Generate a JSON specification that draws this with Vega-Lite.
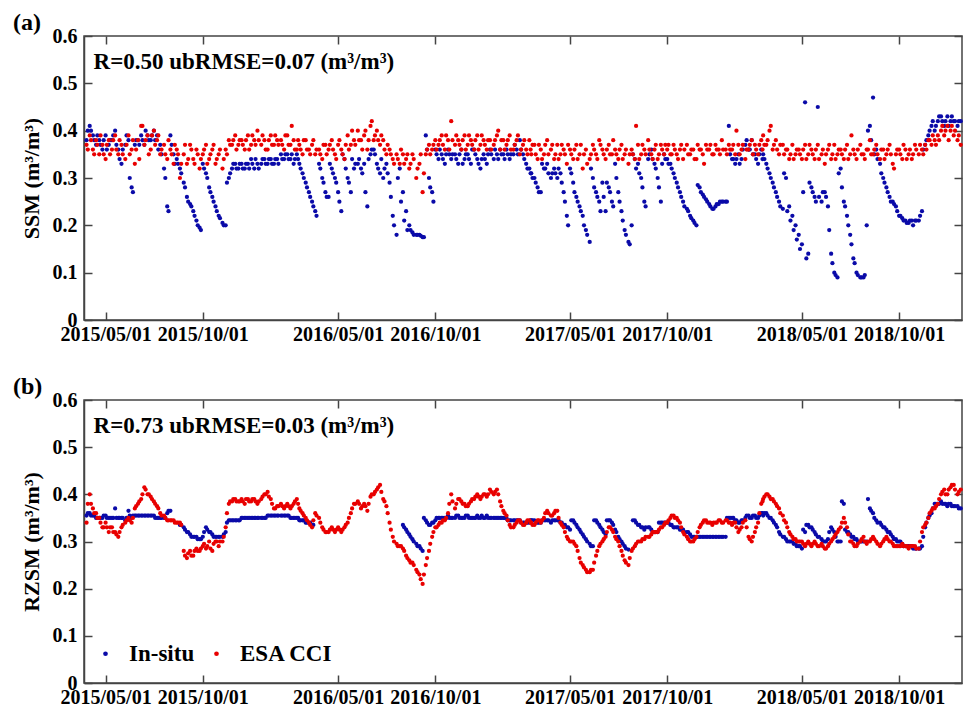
{
"$schema":"https://vega.github.io/schema/vega-lite/v6.json",
"background":"white",
"padding":{"left":12,"top":10,"right":0,"bottom":0},
"datasets":{"sm":[
{"d":"2015-04-01","ai":0.38,"ae":0.37,"bi":0.355,"be":0.34},
{"d":"2015-04-06","ai":0.41,"ae":0.39,"bi":0.36,"be":0.40},
{"d":"2015-04-11","ai":0.39,"ae":0.36,"bi":0.355,"be":0.37},
{"d":"2015-04-16","ai":0.37,"ae":0.38,"bi":0.35,"be":0.36},
{"d":"2015-04-21","ai":0.38,"ae":0.35,"bi":0.35,"be":0.35},
{"d":"2015-04-26","ai":0.36,"ae":0.37,"bi":0.35,"be":0.33},
{"d":"2015-05-01","ai":0.39,"ae":0.34,"bi":0.355,"be":0.34},
{"d":"2015-05-06","ai":0.37,"ae":0.38,"bi":0.35,"be":0.32},
{"d":"2015-05-11","ai":0.38,"ae":0.36,"bi":0.35,"be":0.33},
{"d":"2015-05-16","ai":0.40,"ae":0.39,"bi":0.37,"be":0.32},
{"d":"2015-05-21","ai":0.36,"ae":0.35,"bi":0.35,"be":0.31},
{"d":"2015-05-26","ai":0.33,"ae":0.37,"bi":0.35,"be":0.33},
{"d":"2015-06-01","ai":0.37,"ae":0.34,"bi":0.345,"be":0.34},
{"d":"2015-06-06","ai":0.38,"ae":0.39,"bi":0.365,"be":0.35},
{"d":"2015-06-11","ai":0.28,"ae":0.36,"bi":0.35,"be":0.34},
{"d":"2015-06-16","ai":0.37,"ae":0.33,"bi":0.355,"be":0.37},
{"d":"2015-06-21","ai":0.38,"ae":0.38,"bi":0.355,"be":0.38},
{"d":"2015-06-26","ai":0.39,"ae":0.41,"bi":0.355,"be":0.39},
{"d":"2015-07-01","ai":0.37,"ae":0.37,"bi":0.355,"be":0.415},
{"d":"2015-07-06","ai":0.39,"ae":0.39,"bi":0.355,"be":0.40},
{"d":"2015-07-11","ai":0.38,"ae":0.36,"bi":0.355,"be":0.395},
{"d":"2015-07-16","ai":0.40,"ae":0.40,"bi":0.355,"be":0.385},
{"d":"2015-07-21","ai":0.39,"ae":0.38,"bi":0.35,"be":0.375},
{"d":"2015-07-26","ai":0.37,"ae":0.35,"bi":0.35,"be":0.36},
{"d":"2015-08-01","ai":0.32,"ae":0.37,"bi":0.35,"be":0.355},
{"d":"2015-08-06","ai":0.24,"ae":0.34,"bi":0.36,"be":0.345},
{"d":"2015-08-11","ai":0.39,"ae":0.36,"bi":0.365,"be":0.345},
{"d":"2015-08-16","ai":0.35,"ae":0.33,"bi":null,"be":0.345},
{"d":"2015-08-21","ai":0.34,"ae":0.36,"bi":null,"be":0.34},
{"d":"2015-08-26","ai":0.32,"ae":0.30,"bi":0.335,"be":0.34},
{"d":"2015-09-01","ai":0.29,"ae":0.35,"bi":0.33,"be":0.28},
{"d":"2015-09-06","ai":0.26,"ae":0.33,"bi":0.32,"be":0.265},
{"d":"2015-09-11","ai":0.245,"ae":0.37,"bi":0.315,"be":0.28},
{"d":"2015-09-16","ai":0.23,"ae":0.34,"bi":0.31,"be":0.27},
{"d":"2015-09-21","ai":0.21,"ae":0.36,"bi":0.31,"be":0.285},
{"d":"2015-09-26","ai":0.195,"ae":0.32,"bi":0.305,"be":0.28},
{"d":"2015-10-01","ai":0.33,"ae":0.35,"bi":0.31,"be":0.29},
{"d":"2015-10-06","ai":0.31,"ae":0.37,"bi":0.33,"be":0.285},
{"d":"2015-10-11","ai":0.28,"ae":0.34,"bi":0.32,"be":0.30},
{"d":"2015-10-16","ai":0.26,"ae":0.36,"bi":0.315,"be":0.28},
{"d":"2015-10-21","ai":0.24,"ae":0.33,"bi":0.31,"be":0.30},
{"d":"2015-10-26","ai":0.22,"ae":0.35,"bi":0.31,"be":0.29},
{"d":"2015-11-01","ai":0.205,"ae":0.32,"bi":0.31,"be":0.30},
{"d":"2015-11-06","ai":0.20,"ae":0.36,"bi":0.32,"be":0.33},
{"d":"2015-11-11","ai":0.30,"ae":0.38,"bi":0.345,"be":0.38},
{"d":"2015-11-16","ai":0.32,"ae":0.37,"bi":0.345,"be":0.385},
{"d":"2015-11-21","ai":0.33,"ae":0.39,"bi":0.345,"be":0.39},
{"d":"2015-11-26","ai":0.32,"ae":0.37,"bi":0.345,"be":0.385},
{"d":"2015-12-01","ai":0.33,"ae":0.38,"bi":0.35,"be":0.39},
{"d":"2015-12-06","ai":0.32,"ae":0.36,"bi":0.35,"be":0.38},
{"d":"2015-12-11","ai":0.33,"ae":0.39,"bi":0.35,"be":0.39},
{"d":"2015-12-16","ai":0.34,"ae":0.37,"bi":0.35,"be":0.385},
{"d":"2015-12-21","ai":0.32,"ae":0.38,"bi":0.35,"be":0.39},
{"d":"2015-12-26","ai":0.33,"ae":0.40,"bi":0.35,"be":0.38},
{"d":"2016-01-01","ai":0.33,"ae":0.37,"bi":0.35,"be":0.39},
{"d":"2016-01-06","ai":0.34,"ae":0.38,"bi":0.35,"be":0.40},
{"d":"2016-01-11","ai":0.33,"ae":0.36,"bi":0.355,"be":0.405},
{"d":"2016-01-16","ai":0.34,"ae":0.39,"bi":0.355,"be":0.39},
{"d":"2016-01-21","ai":0.33,"ae":0.37,"bi":0.355,"be":0.37},
{"d":"2016-01-26","ai":0.34,"ae":0.38,"bi":0.355,"be":0.375},
{"d":"2016-02-01","ai":0.35,"ae":0.38,"bi":0.355,"be":0.38},
{"d":"2016-02-06","ai":0.34,"ae":0.36,"bi":0.355,"be":0.37},
{"d":"2016-02-11","ai":0.35,"ae":0.39,"bi":0.355,"be":0.38},
{"d":"2016-02-16","ai":0.34,"ae":0.37,"bi":0.35,"be":0.37},
{"d":"2016-02-21","ai":0.33,"ae":0.38,"bi":0.35,"be":0.38},
{"d":"2016-02-26","ai":0.35,"ae":0.36,"bi":0.35,"be":0.39},
{"d":"2016-03-01","ai":0.33,"ae":0.37,"bi":0.345,"be":0.37},
{"d":"2016-03-06","ai":0.31,"ae":0.35,"bi":0.345,"be":0.36},
{"d":"2016-03-11","ai":0.29,"ae":0.38,"bi":0.34,"be":0.35},
{"d":"2016-03-16","ai":0.27,"ae":0.36,"bi":0.34,"be":0.34},
{"d":"2016-03-21","ai":0.25,"ae":0.37,"bi":0.335,"be":0.33},
{"d":"2016-03-26","ai":0.23,"ae":0.35,"bi":null,"be":0.36},
{"d":"2016-04-01","ai":0.33,"ae":0.36,"bi":null,"be":0.35},
{"d":"2016-04-06","ai":0.30,"ae":0.34,"bi":null,"be":0.33},
{"d":"2016-04-11","ai":0.27,"ae":0.37,"bi":null,"be":0.32},
{"d":"2016-04-16","ai":0.26,"ae":0.36,"bi":null,"be":0.32},
{"d":"2016-04-21","ai":0.32,"ae":0.38,"bi":null,"be":0.33},
{"d":"2016-04-26","ai":0.30,"ae":0.35,"bi":null,"be":0.32},
{"d":"2016-05-01","ai":0.27,"ae":0.37,"bi":null,"be":0.33},
{"d":"2016-05-06","ai":0.23,"ae":0.36,"bi":null,"be":0.32},
{"d":"2016-05-11","ai":0.34,"ae":0.34,"bi":null,"be":0.33},
{"d":"2016-05-16","ai":0.30,"ae":0.39,"bi":null,"be":0.34},
{"d":"2016-05-21","ai":0.27,"ae":0.37,"bi":null,"be":0.36},
{"d":"2016-05-26","ai":0.32,"ae":0.38,"bi":null,"be":0.38},
{"d":"2016-06-01","ai":0.33,"ae":0.40,"bi":null,"be":0.385},
{"d":"2016-06-06","ai":0.32,"ae":0.38,"bi":null,"be":0.37},
{"d":"2016-06-11","ai":0.33,"ae":0.39,"bi":null,"be":0.38},
{"d":"2016-06-16","ai":0.24,"ae":0.36,"bi":null,"be":0.365},
{"d":"2016-06-21","ai":0.35,"ae":0.41,"bi":null,"be":0.395},
{"d":"2016-06-26","ai":0.36,"ae":0.38,"bi":null,"be":0.40},
{"d":"2016-07-01","ai":0.33,"ae":0.40,"bi":null,"be":0.41},
{"d":"2016-07-06","ai":0.31,"ae":0.37,"bi":null,"be":0.42},
{"d":"2016-07-11","ai":0.30,"ae":0.38,"bi":null,"be":0.39},
{"d":"2016-07-16","ai":0.33,"ae":0.35,"bi":null,"be":0.375},
{"d":"2016-07-21","ai":0.29,"ae":0.36,"bi":null,"be":0.34},
{"d":"2016-07-26","ai":0.22,"ae":0.34,"bi":null,"be":0.31},
{"d":"2016-08-01","ai":0.18,"ae":0.35,"bi":null,"be":0.295},
{"d":"2016-08-06","ai":0.32,"ae":0.33,"bi":null,"be":0.29},
{"d":"2016-08-11","ai":0.27,"ae":0.35,"bi":0.335,"be":0.285},
{"d":"2016-08-16","ai":0.23,"ae":0.34,"bi":0.325,"be":0.27},
{"d":"2016-08-21","ai":0.20,"ae":0.32,"bi":0.315,"be":0.26},
{"d":"2016-08-26","ai":0.185,"ae":0.35,"bi":0.305,"be":0.255},
{"d":"2016-09-01","ai":0.18,"ae":0.30,"bi":0.295,"be":0.24},
{"d":"2016-09-06","ai":0.18,"ae":0.33,"bi":0.29,"be":0.23},
{"d":"2016-09-11","ai":0.175,"ae":0.27,"bi":0.28,"be":0.21},
{"d":"2016-09-16","ai":0.39,"ae":0.35,"bi":0.345,"be":0.25},
{"d":"2016-09-21","ai":0.30,"ae":0.37,"bi":0.335,"be":0.28},
{"d":"2016-09-26","ai":0.27,"ae":0.36,"bi":0.34,"be":0.31},
{"d":"2016-10-01","ai":0.36,"ae":0.38,"bi":0.345,"be":0.33},
{"d":"2016-10-06","ai":0.34,"ae":0.37,"bi":0.35,"be":0.335},
{"d":"2016-10-11","ai":0.35,"ae":0.39,"bi":0.35,"be":0.34},
{"d":"2016-10-16","ai":0.33,"ae":0.36,"bi":0.35,"be":0.345},
{"d":"2016-10-21","ai":0.36,"ae":0.38,"bi":0.355,"be":0.36},
{"d":"2016-10-26","ai":0.34,"ae":0.42,"bi":0.35,"be":0.40},
{"d":"2016-11-01","ai":0.35,"ae":0.37,"bi":0.35,"be":0.37},
{"d":"2016-11-06","ai":0.33,"ae":0.38,"bi":0.355,"be":0.39},
{"d":"2016-11-11","ai":0.36,"ae":0.36,"bi":0.35,"be":0.385},
{"d":"2016-11-16","ai":0.34,"ae":0.39,"bi":0.35,"be":0.38},
{"d":"2016-11-21","ai":0.35,"ae":0.37,"bi":0.355,"be":0.375},
{"d":"2016-11-26","ai":0.33,"ae":0.38,"bi":0.35,"be":0.385},
{"d":"2016-12-01","ai":0.36,"ae":0.36,"bi":0.35,"be":0.39},
{"d":"2016-12-06","ai":0.34,"ae":0.39,"bi":0.355,"be":0.40},
{"d":"2016-12-11","ai":0.32,"ae":0.37,"bi":0.35,"be":0.39},
{"d":"2016-12-16","ai":0.35,"ae":0.38,"bi":0.35,"be":0.40},
{"d":"2016-12-21","ai":0.33,"ae":0.36,"bi":0.355,"be":0.395},
{"d":"2016-12-26","ai":0.36,"ae":0.38,"bi":0.35,"be":0.41},
{"d":"2017-01-01","ai":0.34,"ae":0.37,"bi":0.35,"be":0.40},
{"d":"2017-01-06","ai":0.35,"ae":0.39,"bi":0.35,"be":0.41},
{"d":"2017-01-11","ai":0.36,"ae":0.36,"bi":0.35,"be":0.385},
{"d":"2017-01-16","ai":0.35,"ae":0.38,"bi":0.35,"be":0.365},
{"d":"2017-01-21","ai":0.36,"ae":0.37,"bi":0.35,"be":0.355},
{"d":"2017-01-26","ai":0.34,"ae":0.39,"bi":0.345,"be":0.335},
{"d":"2017-02-01","ai":0.35,"ae":0.36,"bi":0.345,"be":0.33},
{"d":"2017-02-06","ai":0.36,"ae":0.38,"bi":0.345,"be":0.34},
{"d":"2017-02-11","ai":0.38,"ae":0.35,"bi":0.345,"be":0.345},
{"d":"2017-02-16","ai":0.35,"ae":0.37,"bi":0.34,"be":0.335},
{"d":"2017-02-21","ai":0.33,"ae":0.36,"bi":0.34,"be":0.34},
{"d":"2017-02-26","ai":0.32,"ae":0.38,"bi":0.34,"be":0.345},
{"d":"2017-03-01","ai":0.31,"ae":0.35,"bi":0.345,"be":0.34},
{"d":"2017-03-06","ai":0.30,"ae":0.37,"bi":0.345,"be":0.335},
{"d":"2017-03-11","ai":0.28,"ae":0.34,"bi":0.34,"be":0.345},
{"d":"2017-03-16","ai":0.27,"ae":0.36,"bi":0.34,"be":0.34},
{"d":"2017-03-21","ai":0.32,"ae":0.35,"bi":0.345,"be":0.35},
{"d":"2017-03-26","ai":0.33,"ae":0.38,"bi":0.345,"be":0.365},
{"d":"2017-04-01","ai":0.30,"ae":0.36,"bi":0.34,"be":0.355},
{"d":"2017-04-06","ai":0.32,"ae":0.34,"bi":0.345,"be":0.36},
{"d":"2017-04-11","ai":0.30,"ae":0.37,"bi":0.345,"be":0.365},
{"d":"2017-04-16","ai":0.31,"ae":0.35,"bi":0.34,"be":0.34},
{"d":"2017-04-21","ai":0.27,"ae":0.36,"bi":0.335,"be":0.33},
{"d":"2017-04-26","ai":0.22,"ae":0.33,"bi":0.33,"be":0.31},
{"d":"2017-05-01","ai":0.32,"ae":0.36,"bi":0.325,"be":0.30},
{"d":"2017-05-06","ai":0.29,"ae":0.34,"bi":0.345,"be":0.30},
{"d":"2017-05-11","ai":0.26,"ae":0.37,"bi":0.335,"be":0.29},
{"d":"2017-05-16","ai":0.24,"ae":0.35,"bi":0.325,"be":0.265},
{"d":"2017-05-21","ai":0.22,"ae":0.32,"bi":0.315,"be":0.25},
{"d":"2017-05-26","ai":0.19,"ae":0.36,"bi":0.305,"be":0.24},
{"d":"2017-06-01","ai":0.165,"ae":0.34,"bi":0.295,"be":0.235},
{"d":"2017-06-06","ai":0.30,"ae":0.37,"bi":0.29,"be":0.24},
{"d":"2017-06-11","ai":0.27,"ae":0.35,"bi":0.345,"be":0.27},
{"d":"2017-06-16","ai":0.25,"ae":0.38,"bi":0.335,"be":0.29},
{"d":"2017-06-21","ai":0.29,"ae":0.36,"bi":0.325,"be":0.30},
{"d":"2017-06-26","ai":0.23,"ae":0.34,"bi":0.315,"be":0.31},
{"d":"2017-07-01","ai":0.28,"ae":0.37,"bi":0.345,"be":0.33},
{"d":"2017-07-06","ai":0.25,"ae":0.35,"bi":0.34,"be":0.325},
{"d":"2017-07-11","ai":0.33,"ae":0.36,"bi":0.325,"be":0.31},
{"d":"2017-07-16","ai":0.27,"ae":0.34,"bi":0.31,"be":0.30},
{"d":"2017-07-21","ai":0.23,"ae":0.37,"bi":0.30,"be":0.28},
{"d":"2017-07-26","ai":0.19,"ae":0.35,"bi":0.29,"be":0.26},
{"d":"2017-08-01","ai":0.165,"ae":0.33,"bi":0.283,"be":0.25},
{"d":"2017-08-06","ai":0.20,"ae":0.36,"bi":null,"be":0.28},
{"d":"2017-08-11","ai":0.34,"ae":0.34,"bi":0.345,"be":0.29},
{"d":"2017-08-16","ai":0.33,"ae":0.37,"bi":0.335,"be":0.30},
{"d":"2017-08-21","ai":0.30,"ae":0.35,"bi":0.33,"be":0.30},
{"d":"2017-08-26","ai":0.25,"ae":0.36,"bi":0.325,"be":0.305},
{"d":"2017-09-01","ai":0.34,"ae":0.38,"bi":0.33,"be":0.31},
{"d":"2017-09-06","ai":0.36,"ae":0.35,"bi":0.325,"be":0.315},
{"d":"2017-09-11","ai":0.33,"ae":0.36,"bi":0.32,"be":0.32},
{"d":"2017-09-16","ai":0.30,"ae":0.34,"bi":0.32,"be":0.32},
{"d":"2017-09-21","ai":0.25,"ae":0.37,"bi":0.34,"be":0.33},
{"d":"2017-09-26","ai":0.35,"ae":0.35,"bi":0.34,"be":0.335},
{"d":"2017-10-01","ai":0.34,"ae":0.36,"bi":0.34,"be":0.34},
{"d":"2017-10-06","ai":0.33,"ae":0.35,"bi":0.335,"be":0.35},
{"d":"2017-10-11","ai":0.31,"ae":0.37,"bi":0.33,"be":0.355},
{"d":"2017-10-16","ai":0.29,"ae":0.35,"bi":0.33,"be":0.35},
{"d":"2017-10-21","ai":0.27,"ae":0.36,"bi":0.325,"be":0.34},
{"d":"2017-10-26","ai":0.25,"ae":0.34,"bi":0.325,"be":0.32},
{"d":"2017-11-01","ai":0.235,"ae":0.37,"bi":0.32,"be":0.31},
{"d":"2017-11-06","ai":0.22,"ae":0.35,"bi":0.315,"be":0.30},
{"d":"2017-11-11","ai":0.21,"ae":0.36,"bi":0.31,"be":0.30},
{"d":"2017-11-16","ai":0.20,"ae":0.34,"bi":0.31,"be":0.31},
{"d":"2017-11-21","ai":0.28,"ae":0.36,"bi":0.31,"be":0.33},
{"d":"2017-11-26","ai":0.265,"ae":0.35,"bi":0.31,"be":0.34},
{"d":"2017-12-01","ai":0.255,"ae":0.37,"bi":0.31,"be":0.345},
{"d":"2017-12-06","ai":0.245,"ae":0.36,"bi":0.31,"be":0.34},
{"d":"2017-12-11","ai":0.235,"ae":0.35,"bi":0.31,"be":0.335},
{"d":"2017-12-16","ai":0.24,"ae":0.37,"bi":0.31,"be":0.34},
{"d":"2017-12-21","ai":0.245,"ae":0.36,"bi":0.31,"be":0.345},
{"d":"2017-12-26","ai":0.25,"ae":0.38,"bi":0.31,"be":0.34},
{"d":"2018-01-01","ai":0.25,"ae":0.36,"bi":0.31,"be":0.345},
{"d":"2018-01-06","ai":0.41,"ae":0.37,"bi":0.35,"be":0.34},
{"d":"2018-01-11","ai":0.34,"ae":0.36,"bi":0.35,"be":0.335},
{"d":"2018-01-16","ai":0.33,"ae":0.35,"bi":0.345,"be":0.34},
{"d":"2018-01-21","ai":0.35,"ae":0.37,"bi":0.34,"be":0.32},
{"d":"2018-01-26","ai":0.34,"ae":0.36,"bi":0.345,"be":0.33},
{"d":"2018-02-01","ai":0.37,"ae":0.34,"bi":0.35,"be":0.345},
{"d":"2018-02-06","ai":0.36,"ae":0.36,"bi":0.355,"be":0.31},
{"d":"2018-02-11","ai":0.38,"ae":0.38,"bi":0.35,"be":0.30},
{"d":"2018-02-16","ai":0.35,"ae":0.37,"bi":0.355,"be":0.32},
{"d":"2018-02-21","ai":0.33,"ae":0.35,"bi":0.35,"be":0.34},
{"d":"2018-02-26","ai":0.36,"ae":0.38,"bi":0.36,"be":0.38},
{"d":"2018-03-01","ai":0.35,"ae":0.39,"bi":0.355,"be":0.39},
{"d":"2018-03-06","ai":0.33,"ae":0.37,"bi":0.36,"be":0.40},
{"d":"2018-03-11","ai":0.31,"ae":0.40,"bi":0.35,"be":0.395},
{"d":"2018-03-16","ai":0.29,"ae":0.36,"bi":0.345,"be":0.39},
{"d":"2018-03-21","ai":0.27,"ae":0.38,"bi":0.335,"be":0.38},
{"d":"2018-03-26","ai":0.25,"ae":0.35,"bi":0.32,"be":0.37},
{"d":"2018-04-01","ai":0.235,"ae":0.37,"bi":0.31,"be":0.355},
{"d":"2018-04-06","ai":0.30,"ae":0.36,"bi":0.305,"be":0.34},
{"d":"2018-04-11","ai":0.24,"ae":0.34,"bi":0.30,"be":0.32},
{"d":"2018-04-16","ai":0.22,"ae":0.37,"bi":0.30,"be":0.31},
{"d":"2018-04-21","ai":0.20,"ae":0.35,"bi":0.295,"be":0.305},
{"d":"2018-04-26","ai":0.18,"ae":0.36,"bi":0.29,"be":0.30},
{"d":"2018-05-01","ai":0.16,"ae":0.34,"bi":0.285,"be":0.30},
{"d":"2018-05-06","ai":0.46,"ae":0.37,"bi":0.32,"be":0.29},
{"d":"2018-05-11","ai":0.14,"ae":0.35,"bi":0.335,"be":0.30},
{"d":"2018-05-16","ai":0.28,"ae":0.36,"bi":0.33,"be":0.29},
{"d":"2018-05-21","ai":0.26,"ae":0.34,"bi":0.32,"be":0.30},
{"d":"2018-05-26","ai":0.45,"ae":0.37,"bi":0.31,"be":0.29},
{"d":"2018-06-01","ai":0.25,"ae":0.35,"bi":0.305,"be":0.295},
{"d":"2018-06-06","ai":0.27,"ae":0.33,"bi":0.30,"be":0.285},
{"d":"2018-06-11","ai":0.24,"ae":0.36,"bi":0.305,"be":0.29},
{"d":"2018-06-16","ai":0.14,"ae":0.34,"bi":0.33,"be":0.30},
{"d":"2018-06-21","ai":0.10,"ae":0.37,"bi":0.32,"be":0.31},
{"d":"2018-06-26","ai":0.09,"ae":0.35,"bi":0.30,"be":0.32},
{"d":"2018-07-01","ai":0.32,"ae":0.36,"bi":0.30,"be":0.33},
{"d":"2018-07-06","ai":0.25,"ae":0.34,"bi":0.38,"be":0.35},
{"d":"2018-07-11","ai":0.22,"ae":0.37,"bi":0.32,"be":0.33},
{"d":"2018-07-16","ai":0.18,"ae":0.35,"bi":0.315,"be":0.30},
{"d":"2018-07-21","ai":0.13,"ae":0.36,"bi":0.31,"be":0.295},
{"d":"2018-07-26","ai":0.10,"ae":0.34,"bi":0.305,"be":0.29},
{"d":"2018-08-01","ai":0.09,"ae":0.37,"bi":0.30,"be":0.30},
{"d":"2018-08-06","ai":0.09,"ae":0.35,"bi":0.30,"be":0.31},
{"d":"2018-08-11","ai":0.20,"ae":0.36,"bi":0.30,"be":0.295},
{"d":"2018-08-16","ai":0.41,"ae":0.38,"bi":0.37,"be":0.30},
{"d":"2018-08-21","ai":0.47,"ae":0.35,"bi":0.36,"be":0.31},
{"d":"2018-08-26","ai":0.36,"ae":0.37,"bi":0.345,"be":0.30},
{"d":"2018-09-01","ai":0.33,"ae":0.34,"bi":0.34,"be":0.29},
{"d":"2018-09-06","ai":0.30,"ae":0.36,"bi":0.33,"be":0.30},
{"d":"2018-09-11","ai":0.28,"ae":0.35,"bi":0.325,"be":0.31},
{"d":"2018-09-16","ai":0.26,"ae":0.37,"bi":0.32,"be":0.30},
{"d":"2018-09-21","ai":0.25,"ae":0.33,"bi":0.31,"be":0.295},
{"d":"2018-09-26","ai":0.24,"ae":0.35,"bi":0.305,"be":0.29},
{"d":"2018-10-01","ai":0.22,"ae":0.36,"bi":0.30,"be":0.29},
{"d":"2018-10-06","ai":0.215,"ae":0.34,"bi":0.295,"be":0.295},
{"d":"2018-10-11","ai":0.21,"ae":0.36,"bi":0.29,"be":0.29},
{"d":"2018-10-16","ai":0.205,"ae":0.35,"bi":0.29,"be":0.285},
{"d":"2018-10-21","ai":0.21,"ae":0.34,"bi":0.29,"be":0.29},
{"d":"2018-10-26","ai":0.21,"ae":0.37,"bi":0.285,"be":0.29},
{"d":"2018-11-01","ai":0.21,"ae":0.35,"bi":0.285,"be":0.285},
{"d":"2018-11-06","ai":0.23,"ae":0.36,"bi":0.29,"be":0.32},
{"d":"2018-11-11","ai":0.37,"ae":0.37,"bi":0.33,"be":0.335},
{"d":"2018-11-16","ai":0.39,"ae":0.38,"bi":0.35,"be":0.35},
{"d":"2018-11-21","ai":0.41,"ae":0.37,"bi":0.36,"be":0.365},
{"d":"2018-11-26","ai":0.40,"ae":0.38,"bi":0.38,"be":0.37},
{"d":"2018-12-01","ai":0.42,"ae":0.39,"bi":0.38,"be":0.38},
{"d":"2018-12-06","ai":0.43,"ae":0.40,"bi":0.385,"be":0.40},
{"d":"2018-12-11","ai":0.41,"ae":0.39,"bi":0.38,"be":0.41},
{"d":"2018-12-16","ai":0.43,"ae":0.41,"bi":0.375,"be":0.40},
{"d":"2018-12-21","ai":0.42,"ae":0.40,"bi":0.38,"be":0.415},
{"d":"2018-12-26","ai":0.42,"ae":0.39,"bi":0.375,"be":0.42},
{"d":"2019-01-01","ai":0.41,"ae":0.38,"bi":0.375,"be":0.40},
{"d":"2019-01-06","ai":0.42,"ae":0.37,"bi":0.37,"be":0.41},
{"d":"2015-04-03","ai":0.40,"ae":0.36,"bi":0.36,"be":0.38},{"d":"2015-04-08","ai":0.40,"ae":0.38,"bi":0.355,"be":0.38},{"d":"2015-04-13","ai":0.38,"ae":0.35,"bi":0.355,"be":0.36},{"d":"2015-04-18","ai":0.39,"ae":0.37,"bi":0.35,"be":0.35},{"d":"2015-04-23","ai":0.37,"ae":0.39,"bi":0.35,"be":0.34},{"d":"2015-04-28","ai":0.38,"ae":0.35,"bi":0.355,"be":0.33},
{"d":"2015-05-03","ai":0.36,"ae":0.37,"bi":0.35,"be":0.33},{"d":"2015-05-08","ai":0.38,"ae":0.35,"bi":0.35,"be":0.33},{"d":"2015-05-13","ai":0.39,"ae":0.38,"bi":0.35,"be":0.32},{"d":"2015-05-18","ai":0.37,"ae":0.36,"bi":0.35,"be":0.315},{"d":"2015-05-23","ai":0.34,"ae":0.38,"bi":0.35,"be":0.32},{"d":"2015-05-28","ai":0.36,"ae":0.35,"bi":0.35,"be":0.335},
{"d":"2015-06-03","ai":0.39,"ae":0.37,"bi":0.35,"be":0.345},{"d":"2015-06-08","ai":0.30,"ae":0.35,"bi":0.355,"be":0.345},{"d":"2015-06-13","ai":0.27,"ae":0.38,"bi":0.355,"be":0.35},{"d":"2015-06-18","ai":0.38,"ae":0.36,"bi":0.355,"be":0.375},{"d":"2015-06-23","ai":0.37,"ae":0.34,"bi":0.355,"be":0.385},{"d":"2015-06-28","ai":0.38,"ae":0.41,"bi":0.355,"be":0.40},
{"d":"2015-07-03","ai":0.40,"ae":0.38,"bi":0.355,"be":0.41},{"d":"2015-07-08","ai":0.38,"ae":0.35,"bi":0.355,"be":0.40},{"d":"2015-07-13","ai":0.39,"ae":0.39,"bi":0.355,"be":0.39},{"d":"2015-07-18","ai":0.38,"ae":0.37,"bi":0.35,"be":0.38},{"d":"2015-07-23","ai":0.36,"ae":0.39,"bi":0.35,"be":0.37},{"d":"2015-07-28","ai":0.35,"ae":0.36,"bi":0.35,"be":0.355},
{"d":"2015-08-03","ai":0.30,"ae":0.35,"bi":0.35,"be":0.35},{"d":"2015-08-08","ai":0.23,"ae":0.38,"bi":0.365,"be":0.345},{"d":"2015-08-13","ai":0.37,"ae":0.35,"bi":null,"be":0.345},{"d":"2015-08-18","ai":0.33,"ae":0.37,"bi":null,"be":0.34},{"d":"2015-08-23","ai":0.33,"ae":0.35,"bi":null,"be":0.34},{"d":"2015-08-28","ai":0.31,"ae":0.33,"bi":0.335,"be":0.335},
{"d":"2015-09-03","ai":0.28,"ae":0.37,"bi":0.325,"be":0.27},{"d":"2015-09-08","ai":0.25,"ae":0.34,"bi":0.32,"be":0.275},{"d":"2015-09-13","ai":0.24,"ae":0.36,"bi":0.31,"be":0.27},{"d":"2015-09-18","ai":0.22,"ae":0.33,"bi":0.31,"be":0.28},{"d":"2015-09-23","ai":0.20,"ae":0.35,"bi":0.305,"be":0.28},{"d":"2015-09-28","ai":0.19,"ae":0.34,"bi":0.305,"be":0.285},
{"d":"2015-10-03","ai":0.32,"ae":0.36,"bi":0.32,"be":0.295},{"d":"2015-10-08","ai":0.30,"ae":0.33,"bi":0.325,"be":0.29},{"d":"2015-10-13","ai":0.27,"ae":0.35,"bi":0.32,"be":0.285},{"d":"2015-10-18","ai":0.25,"ae":0.37,"bi":0.31,"be":0.295},{"d":"2015-10-23","ai":0.23,"ae":0.34,"bi":0.31,"be":0.30},{"d":"2015-10-28","ai":0.215,"ae":0.36,"bi":0.31,"be":0.30},
{"d":"2015-11-03","ai":0.20,"ae":0.34,"bi":0.315,"be":0.31},{"d":"2015-11-08","ai":0.29,"ae":0.35,"bi":0.34,"be":0.36},{"d":"2015-11-13","ai":0.31,"ae":0.37,"bi":0.345,"be":0.385},{"d":"2015-11-18","ai":0.33,"ae":0.38,"bi":0.345,"be":0.39},{"d":"2015-11-23","ai":0.32,"ae":0.36,"bi":0.345,"be":0.385},{"d":"2015-11-28","ai":0.33,"ae":0.38,"bi":0.345,"be":0.385},
{"d":"2015-12-03","ai":0.32,"ae":0.37,"bi":0.35,"be":0.385},{"d":"2015-12-08","ai":0.33,"ae":0.38,"bi":0.35,"be":0.39},{"d":"2015-12-13","ai":0.32,"ae":0.36,"bi":0.35,"be":0.385},{"d":"2015-12-18","ai":0.33,"ae":0.39,"bi":0.35,"be":0.39},{"d":"2015-12-23","ai":0.34,"ae":0.37,"bi":0.35,"be":0.385},{"d":"2015-12-28","ai":0.32,"ae":0.38,"bi":0.35,"be":0.385},
{"d":"2016-01-03","ai":0.34,"ae":0.39,"bi":0.35,"be":0.395},{"d":"2016-01-08","ai":0.33,"ae":0.36,"bi":0.35,"be":0.40},{"d":"2016-01-13","ai":0.34,"ae":0.38,"bi":0.355,"be":0.395},{"d":"2016-01-18","ai":0.33,"ae":0.37,"bi":0.355,"be":0.38},{"d":"2016-01-23","ai":0.34,"ae":0.39,"bi":0.355,"be":0.37},{"d":"2016-01-28","ai":0.33,"ae":0.37,"bi":0.355,"be":0.375},
{"d":"2016-02-03","ai":0.34,"ae":0.37,"bi":0.355,"be":0.375},{"d":"2016-02-08","ai":0.35,"ae":0.39,"bi":0.355,"be":0.375},{"d":"2016-02-13","ai":0.34,"ae":0.37,"bi":0.355,"be":0.375},{"d":"2016-02-18","ai":0.35,"ae":0.41,"bi":0.35,"be":0.375},{"d":"2016-02-23","ai":0.34,"ae":0.36,"bi":0.35,"be":0.385},{"d":"2016-02-28","ai":0.34,"ae":0.38,"bi":0.35,"be":0.38},
{"d":"2016-03-03","ai":0.32,"ae":0.36,"bi":0.345,"be":0.365},{"d":"2016-03-08","ai":0.30,"ae":0.38,"bi":0.345,"be":0.355},{"d":"2016-03-13","ai":0.28,"ae":0.36,"bi":0.34,"be":0.345},{"d":"2016-03-18","ai":0.26,"ae":0.35,"bi":0.34,"be":0.335},{"d":"2016-03-23","ai":0.24,"ae":0.38,"bi":0.335,"be":0.345},{"d":"2016-03-28","ai":0.22,"ae":0.36,"bi":null,"be":0.355},
{"d":"2016-04-03","ai":0.32,"ae":0.35,"bi":null,"be":0.34},{"d":"2016-04-08","ai":0.29,"ae":0.37,"bi":null,"be":0.325},{"d":"2016-04-13","ai":0.26,"ae":0.35,"bi":null,"be":0.32},{"d":"2016-04-18","ai":0.33,"ae":0.37,"bi":null,"be":0.325},{"d":"2016-04-23","ai":0.31,"ae":0.36,"bi":null,"be":0.325},{"d":"2016-04-28","ai":0.29,"ae":0.34,"bi":null,"be":0.325},
{"d":"2016-05-03","ai":0.25,"ae":0.38,"bi":null,"be":0.325},{"d":"2016-05-08","ai":0.35,"ae":0.35,"bi":null,"be":0.325},{"d":"2016-05-13","ai":0.32,"ae":0.37,"bi":null,"be":0.335},{"d":"2016-05-18","ai":0.29,"ae":0.36,"bi":null,"be":0.35},{"d":"2016-05-23","ai":0.34,"ae":0.40,"bi":null,"be":0.37},{"d":"2016-05-28","ai":0.33,"ae":0.37,"bi":null,"be":0.38},
{"d":"2016-06-03","ai":0.34,"ae":0.38,"bi":null,"be":0.38},{"d":"2016-06-08","ai":0.31,"ae":0.36,"bi":null,"be":0.375},{"d":"2016-06-13","ai":0.27,"ae":0.40,"bi":null,"be":0.375},{"d":"2016-06-18","ai":0.34,"ae":0.38,"bi":null,"be":0.38},{"d":"2016-06-23","ai":0.36,"ae":0.42,"bi":null,"be":0.40},{"d":"2016-06-28","ai":0.35,"ae":0.39,"bi":null,"be":0.405},
{"d":"2016-07-03","ai":0.32,"ae":0.38,"bi":null,"be":0.415},{"d":"2016-07-08","ai":0.34,"ae":0.39,"bi":null,"be":0.405},{"d":"2016-07-13","ai":0.32,"ae":0.36,"bi":null,"be":0.385},{"d":"2016-07-18","ai":0.31,"ae":0.37,"bi":null,"be":0.36},{"d":"2016-07-23","ai":0.26,"ae":0.35,"bi":null,"be":0.325},{"d":"2016-07-28","ai":0.20,"ae":0.33,"bi":null,"be":0.30},
{"d":"2016-08-03","ai":0.30,"ae":0.34,"bi":null,"be":0.29},{"d":"2016-08-08","ai":0.25,"ae":0.36,"bi":null,"be":0.29},{"d":"2016-08-13","ai":0.21,"ae":0.33,"bi":0.33,"be":0.28},{"d":"2016-08-18","ai":0.19,"ae":0.35,"bi":0.32,"be":0.265},{"d":"2016-08-23","ai":0.19,"ae":0.33,"bi":0.31,"be":0.255},{"d":"2016-08-28","ai":0.18,"ae":0.34,"bi":0.30,"be":0.25},
{"d":"2016-09-03","ai":0.18,"ae":0.32,"bi":0.29,"be":0.235},{"d":"2016-09-08","ai":0.178,"ae":0.35,"bi":0.285,"be":0.22},{"d":"2016-09-13","ai":0.175,"ae":0.31,"bi":0.35,"be":0.23},{"d":"2016-09-18","ai":0.36,"ae":0.36,"bi":0.34,"be":0.265},{"d":"2016-09-23","ai":0.28,"ae":0.35,"bi":0.335,"be":0.295},{"d":"2016-09-28","ai":0.25,"ae":0.37,"bi":0.34,"be":0.32},
{"d":"2016-10-03","ai":0.35,"ae":0.36,"bi":0.35,"be":0.33},{"d":"2016-10-08","ai":0.36,"ae":0.38,"bi":0.35,"be":0.34},{"d":"2016-10-13","ai":0.34,"ae":0.37,"bi":0.35,"be":0.345},{"d":"2016-10-18","ai":0.35,"ae":0.39,"bi":0.35,"be":0.35},{"d":"2016-10-23","ai":0.35,"ae":0.36,"bi":0.35,"be":0.38},{"d":"2016-10-28","ai":0.35,"ae":0.38,"bi":0.35,"be":0.385},
{"d":"2016-11-03","ai":0.34,"ae":0.39,"bi":0.355,"be":0.38},{"d":"2016-11-08","ai":0.35,"ae":0.37,"bi":0.35,"be":0.39},{"d":"2016-11-13","ai":0.33,"ae":0.38,"bi":0.35,"be":0.38},{"d":"2016-11-18","ai":0.35,"ae":0.36,"bi":0.355,"be":0.375},{"d":"2016-11-23","ai":0.34,"ae":0.39,"bi":0.35,"be":0.38},{"d":"2016-11-28","ai":0.36,"ae":0.37,"bi":0.35,"be":0.39},
{"d":"2016-12-03","ai":0.35,"ae":0.38,"bi":0.35,"be":0.395},{"d":"2016-12-08","ai":0.33,"ae":0.36,"bi":0.35,"be":0.395},{"d":"2016-12-13","ai":0.34,"ae":0.39,"bi":0.355,"be":0.395},{"d":"2016-12-18","ai":0.34,"ae":0.37,"bi":0.35,"be":0.40},{"d":"2016-12-23","ai":0.35,"ae":0.38,"bi":0.35,"be":0.40},{"d":"2016-12-28","ai":0.35,"ae":0.36,"bi":0.35,"be":0.405},
{"d":"2017-01-03","ai":0.36,"ae":0.38,"bi":0.35,"be":0.405},{"d":"2017-01-08","ai":0.34,"ae":0.40,"bi":0.35,"be":0.40},{"d":"2017-01-13","ai":0.35,"ae":0.38,"bi":0.35,"be":0.375},{"d":"2017-01-18","ai":0.34,"ae":0.36,"bi":0.35,"be":0.36},{"d":"2017-01-23","ai":0.35,"ae":0.38,"bi":0.345,"be":0.345},{"d":"2017-01-28","ai":0.35,"ae":0.36,"bi":0.345,"be":0.33},
{"d":"2017-02-03","ai":0.37,"ae":0.37,"bi":0.345,"be":0.335},{"d":"2017-02-08","ai":0.35,"ae":0.39,"bi":0.345,"be":0.345},{"d":"2017-02-13","ai":0.36,"ae":0.36,"bi":0.34,"be":0.34},{"d":"2017-02-18","ai":0.34,"ae":0.38,"bi":0.34,"be":0.335},{"d":"2017-02-23","ai":0.32,"ae":0.35,"bi":0.34,"be":0.345},{"d":"2017-02-28","ai":0.31,"ae":0.36,"bi":0.345,"be":0.34},
{"d":"2017-03-03","ai":0.30,"ae":0.37,"bi":0.345,"be":0.335},{"d":"2017-03-08","ai":0.29,"ae":0.35,"bi":0.34,"be":0.34},{"d":"2017-03-13","ai":0.27,"ae":0.37,"bi":0.34,"be":0.345},{"d":"2017-03-18","ai":0.33,"ae":0.34,"bi":0.345,"be":0.345},{"d":"2017-03-23","ai":0.32,"ae":0.37,"bi":0.345,"be":0.36},{"d":"2017-03-28","ai":0.31,"ae":0.35,"bi":0.345,"be":0.36},
{"d":"2017-04-03","ai":0.31,"ae":0.37,"bi":0.345,"be":0.355},{"d":"2017-04-08","ai":0.31,"ae":0.35,"bi":0.345,"be":0.365},{"d":"2017-04-13","ai":0.32,"ae":0.34,"bi":0.345,"be":0.35},{"d":"2017-04-18","ai":0.29,"ae":0.37,"bi":0.34,"be":0.335},{"d":"2017-04-23","ai":0.25,"ae":0.35,"bi":0.335,"be":0.32},{"d":"2017-04-28","ai":0.20,"ae":0.37,"bi":0.33,"be":0.305},
{"d":"2017-05-03","ai":0.31,"ae":0.35,"bi":0.345,"be":0.30},{"d":"2017-05-08","ai":0.27,"ae":0.36,"bi":0.34,"be":0.295},{"d":"2017-05-13","ai":0.25,"ae":0.34,"bi":0.33,"be":0.28},{"d":"2017-05-18","ai":0.23,"ae":0.37,"bi":0.32,"be":0.255},{"d":"2017-05-23","ai":0.20,"ae":0.35,"bi":0.31,"be":0.245},{"d":"2017-05-28","ai":0.18,"ae":0.33,"bi":0.30,"be":0.235},
{"d":"2017-06-03","ai":0.32,"ae":0.35,"bi":0.29,"be":0.24},{"d":"2017-06-08","ai":0.28,"ae":0.36,"bi":0.345,"be":0.255},{"d":"2017-06-13","ai":0.26,"ae":0.34,"bi":0.34,"be":0.28},{"d":"2017-06-18","ai":0.23,"ae":0.37,"bi":0.33,"be":0.295},{"d":"2017-06-23","ai":0.26,"ae":0.35,"bi":0.32,"be":0.305},{"d":"2017-06-28","ai":0.29,"ae":0.36,"bi":0.345,"be":0.32},
{"d":"2017-07-03","ai":0.27,"ae":0.35,"bi":0.345,"be":0.33},{"d":"2017-07-08","ai":0.24,"ae":0.38,"bi":0.335,"be":0.32},{"d":"2017-07-13","ai":0.30,"ae":0.35,"bi":0.32,"be":0.305},{"d":"2017-07-18","ai":0.25,"ae":0.36,"bi":0.305,"be":0.29},{"d":"2017-07-23","ai":0.21,"ae":0.34,"bi":0.295,"be":0.27},{"d":"2017-07-28","ai":0.18,"ae":0.36,"bi":0.285,"be":0.255},
{"d":"2017-08-03","ai":0.16,"ae":0.35,"bi":null,"be":0.265},{"d":"2017-08-08","ai":0.35,"ae":0.35,"bi":0.345,"be":0.285},{"d":"2017-08-13","ai":0.32,"ae":0.41,"bi":0.34,"be":0.295},{"d":"2017-08-18","ai":0.31,"ae":0.34,"bi":0.335,"be":0.30},{"d":"2017-08-23","ai":0.28,"ae":0.37,"bi":0.33,"be":0.305},{"d":"2017-08-28","ai":0.24,"ae":0.35,"bi":0.33,"be":0.31},
{"d":"2017-09-03","ai":0.35,"ae":0.36,"bi":0.33,"be":0.31},{"d":"2017-09-08","ai":0.34,"ae":0.34,"bi":0.32,"be":0.32},{"d":"2017-09-13","ai":0.32,"ae":0.37,"bi":0.32,"be":0.32},{"d":"2017-09-18","ai":0.28,"ae":0.35,"bi":0.34,"be":0.325},{"d":"2017-09-23","ai":0.33,"ae":0.36,"bi":0.34,"be":0.33},{"d":"2017-09-28","ai":0.34,"ae":0.37,"bi":0.34,"be":0.34},
{"d":"2017-10-03","ai":0.33,"ae":0.37,"bi":0.34,"be":0.345},{"d":"2017-10-08","ai":0.32,"ae":0.35,"bi":0.335,"be":0.355},{"d":"2017-10-13","ai":0.30,"ae":0.36,"bi":0.33,"be":0.35},{"d":"2017-10-18","ai":0.28,"ae":0.34,"bi":0.33,"be":0.345},{"d":"2017-10-23","ai":0.26,"ae":0.37,"bi":0.325,"be":0.33},{"d":"2017-10-28","ai":0.24,"ae":0.36,"bi":0.32,"be":0.315},
{"d":"2017-11-03","ai":0.23,"ae":0.35,"bi":0.32,"be":0.305},{"d":"2017-11-08","ai":0.215,"ae":0.36,"bi":0.31,"be":0.30},{"d":"2017-11-13","ai":0.205,"ae":0.34,"bi":0.31,"be":0.305},{"d":"2017-11-18","ai":0.285,"ae":0.37,"bi":0.31,"be":0.32},{"d":"2017-11-23","ai":0.27,"ae":0.36,"bi":0.31,"be":0.335},{"d":"2017-11-28","ai":0.26,"ae":0.33,"bi":0.31,"be":0.345},
{"d":"2017-12-03","ai":0.25,"ae":0.36,"bi":0.31,"be":0.34},{"d":"2017-12-08","ai":0.24,"ae":0.37,"bi":0.31,"be":0.34},{"d":"2017-12-13","ai":0.235,"ae":0.35,"bi":0.31,"be":0.34},{"d":"2017-12-18","ai":0.245,"ae":0.36,"bi":0.31,"be":0.34},{"d":"2017-12-23","ai":0.25,"ae":0.35,"bi":0.31,"be":0.345},{"d":"2017-12-28","ai":0.25,"ae":0.36,"bi":0.31,"be":0.34},
{"d":"2018-01-03","ai":0.25,"ae":0.35,"bi":0.35,"be":0.345},{"d":"2018-01-08","ai":0.35,"ae":0.36,"bi":0.35,"be":0.34},{"d":"2018-01-13","ai":0.34,"ae":0.37,"bi":0.35,"be":0.34},{"d":"2018-01-18","ai":0.34,"ae":0.40,"bi":0.345,"be":0.33},{"d":"2018-01-23","ai":0.33,"ae":0.35,"bi":0.34,"be":0.325},{"d":"2018-01-28","ai":0.36,"ae":0.37,"bi":0.345,"be":0.34},
{"d":"2018-02-03","ai":0.38,"ae":0.36,"bi":0.355,"be":0.33},{"d":"2018-02-08","ai":0.36,"ae":0.37,"bi":0.35,"be":0.305},{"d":"2018-02-13","ai":0.35,"ae":0.35,"bi":0.355,"be":0.31},{"d":"2018-02-18","ai":0.34,"ae":0.36,"bi":0.35,"be":0.33},{"d":"2018-02-23","ai":0.35,"ae":0.37,"bi":0.355,"be":0.36},{"d":"2018-02-28","ai":0.34,"ae":0.36,"bi":0.36,"be":0.385},
{"d":"2018-03-03","ai":0.34,"ae":0.37,"bi":0.36,"be":0.395},{"d":"2018-03-08","ai":0.32,"ae":0.38,"bi":0.355,"be":0.40},{"d":"2018-03-13","ai":0.30,"ae":0.41,"bi":0.35,"be":0.39},{"d":"2018-03-18","ai":0.28,"ae":0.37,"bi":0.34,"be":0.385},{"d":"2018-03-23","ai":0.26,"ae":0.36,"bi":0.33,"be":0.375},{"d":"2018-03-28","ai":0.24,"ae":0.37,"bi":0.315,"be":0.36},
{"d":"2018-04-03","ai":0.31,"ae":0.35,"bi":0.31,"be":0.345},{"d":"2018-04-08","ai":0.23,"ae":0.36,"bi":0.30,"be":0.33},{"d":"2018-04-13","ai":0.21,"ae":0.35,"bi":0.30,"be":0.315},{"d":"2018-04-18","ai":0.19,"ae":0.34,"bi":0.295,"be":0.305},{"d":"2018-04-23","ai":0.17,"ae":0.36,"bi":0.29,"be":0.30},{"d":"2018-04-28","ai":0.15,"ae":0.35,"bi":0.29,"be":0.30},
{"d":"2018-05-03","ai":0.27,"ae":0.36,"bi":0.325,"be":0.295},{"d":"2018-05-08","ai":0.13,"ae":0.34,"bi":0.335,"be":0.295},{"d":"2018-05-13","ai":0.29,"ae":0.37,"bi":0.33,"be":0.295},{"d":"2018-05-18","ai":0.27,"ae":0.35,"bi":0.325,"be":0.295},{"d":"2018-05-23","ai":0.25,"ae":0.36,"bi":0.315,"be":0.295},{"d":"2018-05-28","ai":0.26,"ae":0.34,"bi":0.31,"be":0.29},
{"d":"2018-06-03","ai":0.27,"ae":0.36,"bi":0.30,"be":0.29},{"d":"2018-06-08","ai":0.26,"ae":0.35,"bi":0.30,"be":0.285},{"d":"2018-06-13","ai":0.19,"ae":0.37,"bi":0.32,"be":0.295},{"d":"2018-06-18","ai":0.12,"ae":0.35,"bi":0.325,"be":0.305},{"d":"2018-06-23","ai":0.095,"ae":0.34,"bi":0.31,"be":0.315},{"d":"2018-06-28","ai":0.31,"ae":0.36,"bi":0.30,"be":0.325},
{"d":"2018-07-03","ai":0.28,"ae":0.35,"bi":0.385,"be":0.34},{"d":"2018-07-08","ai":0.24,"ae":0.36,"bi":0.325,"be":0.34},{"d":"2018-07-13","ai":0.20,"ae":0.34,"bi":0.32,"be":0.315},{"d":"2018-07-18","ai":0.16,"ae":0.39,"bi":0.31,"be":0.30},{"d":"2018-07-23","ai":0.12,"ae":0.35,"bi":0.305,"be":0.29},{"d":"2018-07-28","ai":0.095,"ae":0.36,"bi":0.30,"be":0.295},
{"d":"2018-08-03","ai":0.09,"ae":0.35,"bi":0.30,"be":0.305},{"d":"2018-08-08","ai":0.095,"ae":0.34,"bi":0.30,"be":0.30},{"d":"2018-08-13","ai":0.40,"ae":0.36,"bi":0.39,"be":0.30},{"d":"2018-08-18","ai":0.38,"ae":0.35,"bi":0.365,"be":0.305},{"d":"2018-08-23","ai":0.35,"ae":0.36,"bi":0.35,"be":0.305},{"d":"2018-08-28","ai":0.34,"ae":0.35,"bi":0.34,"be":0.295},
{"d":"2018-09-03","ai":0.31,"ae":0.36,"bi":0.335,"be":0.295},{"d":"2018-09-08","ai":0.29,"ae":0.34,"bi":0.33,"be":0.305},{"d":"2018-09-13","ai":0.27,"ae":0.36,"bi":0.32,"be":0.305},{"d":"2018-09-18","ai":0.25,"ae":0.35,"bi":0.315,"be":0.30},{"d":"2018-09-23","ai":0.245,"ae":0.32,"bi":0.305,"be":0.29},{"d":"2018-09-28","ai":0.23,"ae":0.36,"bi":0.30,"be":0.29},
{"d":"2018-10-03","ai":0.22,"ae":0.35,"bi":0.30,"be":0.29},{"d":"2018-10-08","ai":0.21,"ae":0.37,"bi":0.29,"be":0.29},{"d":"2018-10-13","ai":0.205,"ae":0.34,"bi":0.29,"be":0.29},{"d":"2018-10-18","ai":0.21,"ae":0.36,"bi":0.29,"be":0.29},{"d":"2018-10-23","ai":0.20,"ae":0.35,"bi":0.285,"be":0.29},{"d":"2018-10-28","ai":0.21,"ae":0.36,"bi":0.285,"be":0.285},
{"d":"2018-11-03","ai":0.22,"ae":0.37,"bi":0.285,"be":0.30},{"d":"2018-11-08","ai":0.36,"ae":0.35,"bi":0.31,"be":0.33},{"d":"2018-11-13","ai":0.38,"ae":0.36,"bi":0.34,"be":0.34},{"d":"2018-11-18","ai":0.40,"ae":0.38,"bi":0.355,"be":0.36},{"d":"2018-11-23","ai":0.42,"ae":0.39,"bi":0.37,"be":0.37},{"d":"2018-11-28","ai":0.41,"ae":0.37,"bi":0.38,"be":0.375},
{"d":"2018-12-03","ai":0.43,"ae":0.38,"bi":0.38,"be":0.39},{"d":"2018-12-08","ai":0.42,"ae":0.41,"bi":0.38,"be":0.405},{"d":"2018-12-13","ai":0.42,"ae":0.40,"bi":0.38,"be":0.40},{"d":"2018-12-18","ai":0.41,"ae":0.38,"bi":0.38,"be":0.41},{"d":"2018-12-23","ai":0.43,"ae":0.41,"bi":0.375,"be":0.42},{"d":"2018-12-28","ai":0.42,"ae":0.40,"bi":0.375,"be":0.41},
{"d":"2019-01-03","ai":0.42,"ae":0.39,"bi":0.37,"be":0.405}
]},
"config":{
"font":"Liberation Serif",
"view":{"stroke":"#444","strokeWidth":1.5},
"axis":{"labelFont":"Liberation Serif","labelFontWeight":"bold","labelColor":"black","titleFont":"Liberation Serif","titleFontWeight":"bold","titleColor":"black","domainColor":"#444","domainWidth":1.5,"tickColor":"#444","tickWidth":1.5,"grid":false},
"title":{"font":"Liberation Serif","fontWeight":"bold","fontSize":24,"color":"black","anchor":"start","frame":"group"}
},
"spacing":29,
"resolve":{"scale":{"color":"independent"},"legend":{"color":"independent"}},
"vconcat":[
{
"width":878,"height":284,
"title":{"text":"(a)","dx":-71,"offset":-9},
"data":{"name":"sm"},
"layer":[
{"mark":{"type":"point","filled":true,"size":18,"opacity":1,"color":"#0A0AA8"},
"encoding":{
"x":{"field":"d","type":"temporal","scale":{"type":"utc","nice":false,"domain":[{"year":2015,"month":3,"date":28,"utc":true},{"year":2019,"month":1,"date":8,"utc":true}]},
"axis":{"orient":"bottom","title":null,"values":[{"year":2015,"month":5,"date":1,"utc":true},{"year":2015,"month":10,"date":1,"utc":true},{"year":2016,"month":5,"date":1,"utc":true},{"year":2016,"month":10,"date":1,"utc":true},{"year":2017,"month":5,"date":1,"utc":true},{"year":2017,"month":10,"date":1,"utc":true},{"year":2018,"month":5,"date":1,"utc":true},{"year":2018,"month":10,"date":1,"utc":true}],"labelExpr":"utcFormat(datum.value, '%Y/%m/%d')","labelFontSize":20,"tickSize":-8,"labelPadding":12,"labelOverlap":false,"labelFlush":false,"labelBound":false}},
"y":{"field":"ai","type":"quantitative","scale":{"domain":[0,0.6],"nice":false},
"axis":{"orient":"left","title":"SSM (m³/m³)","titleFontSize":22,"values":[0,0.1,0.2,0.3,0.4,0.5,0.6],"format":"~g","labelFontSize":20,"tickSize":-8,"labelPadding":15,"titlePadding":9}}
}},
{"mark":{"type":"point","filled":true,"size":18,"opacity":1,"color":"#E80000"},
"encoding":{
"x":{"field":"d","type":"temporal","axis":null},
"y":{"field":"ae","type":"quantitative","axis":null}
}},
{"data":{"values":[{"label":"R=0.50 ubRMSE=0.07 (m³/m³)"}]},
"mark":{"type":"text","align":"left","baseline":"alphabetic","font":"Liberation Serif","fontWeight":"bold","fontSize":23,"color":"black"},
"encoding":{
"x":{"datum":{"year":2015,"month":4,"date":12,"utc":true},"type":"temporal","axis":{"orient":"top","labels":false,"domain":false,"title":null,"tickSize":-8,"values":[{"year":2015,"month":5,"date":1,"utc":true},{"year":2015,"month":10,"date":1,"utc":true},{"year":2016,"month":5,"date":1,"utc":true},{"year":2016,"month":10,"date":1,"utc":true},{"year":2017,"month":5,"date":1,"utc":true},{"year":2017,"month":10,"date":1,"utc":true},{"year":2018,"month":5,"date":1,"utc":true},{"year":2018,"month":10,"date":1,"utc":true}]}},
"y":{"datum":0.53,"type":"quantitative","axis":{"orient":"right","labels":false,"domain":false,"title":null,"tickSize":-8,"values":[0,0.1,0.2,0.3,0.4,0.5,0.6]}},
"text":{"field":"label"}
}}
]
},
{
"width":878,"height":283,
"title":{"text":"(b)","dx":-71,"offset":-9},
"data":{"name":"sm"},
"layer":[
{"mark":{"type":"point","filled":true,"size":18,"opacity":1},
"encoding":{
"x":{"field":"d","type":"temporal","scale":{"type":"utc","nice":false,"domain":[{"year":2015,"month":3,"date":28,"utc":true},{"year":2019,"month":1,"date":8,"utc":true}]},
"axis":{"orient":"bottom","title":null,"values":[{"year":2015,"month":5,"date":1,"utc":true},{"year":2015,"month":10,"date":1,"utc":true},{"year":2016,"month":5,"date":1,"utc":true},{"year":2016,"month":10,"date":1,"utc":true},{"year":2017,"month":5,"date":1,"utc":true},{"year":2017,"month":10,"date":1,"utc":true},{"year":2018,"month":5,"date":1,"utc":true},{"year":2018,"month":10,"date":1,"utc":true}],"labelExpr":"utcFormat(datum.value, '%Y/%m/%d')","labelFontSize":20,"tickSize":-8,"labelPadding":12,"labelOverlap":false,"labelFlush":false,"labelBound":false}},
"y":{"field":"bi","type":"quantitative","scale":{"domain":[0,0.6],"nice":false},
"axis":{"orient":"left","title":"RZSM (m³/m³)","titleFontSize":22,"values":[0,0.1,0.2,0.3,0.4,0.5,0.6],"format":"~g","labelFontSize":20,"tickSize":-8,"labelPadding":15,"titlePadding":9}},
"color":{"datum":"In-situ","type":"nominal","scale":{"domain":["In-situ","ESA CCI"],"range":["#0A0AA8","#E80000"]},
"legend":{"orient":"none","legendX":10,"legendY":242,"direction":"horizontal","title":null,"symbolType":"circle","symbolSize":22,"symbolStrokeWidth":0,"labelFont":"Liberation Serif","labelFontWeight":"bold","labelFontSize":23,"labelColor":"black","labelOffset":12,"columnPadding":10,"padding":0}}
}},
{"mark":{"type":"point","filled":true,"size":18,"opacity":1},
"encoding":{
"x":{"field":"d","type":"temporal","axis":null},
"y":{"field":"be","type":"quantitative","axis":null},
"color":{"datum":"ESA CCI","type":"nominal"}
}},
{"data":{"values":[{"label":"R=0.73 ubRMSE=0.03 (m³/m³)"}]},
"mark":{"type":"text","align":"left","baseline":"alphabetic","font":"Liberation Serif","fontWeight":"bold","fontSize":23,"color":"black"},
"encoding":{
"x":{"datum":{"year":2015,"month":4,"date":12,"utc":true},"type":"temporal","axis":{"orient":"top","labels":false,"domain":false,"title":null,"tickSize":-8,"values":[{"year":2015,"month":5,"date":1,"utc":true},{"year":2015,"month":10,"date":1,"utc":true},{"year":2016,"month":5,"date":1,"utc":true},{"year":2016,"month":10,"date":1,"utc":true},{"year":2017,"month":5,"date":1,"utc":true},{"year":2017,"month":10,"date":1,"utc":true},{"year":2018,"month":5,"date":1,"utc":true},{"year":2018,"month":10,"date":1,"utc":true}]}},
"y":{"datum":0.53,"type":"quantitative","axis":{"orient":"right","labels":false,"domain":false,"title":null,"tickSize":-8,"values":[0,0.1,0.2,0.3,0.4,0.5,0.6]}},
"text":{"field":"label"}
}}
]
}
]
}
